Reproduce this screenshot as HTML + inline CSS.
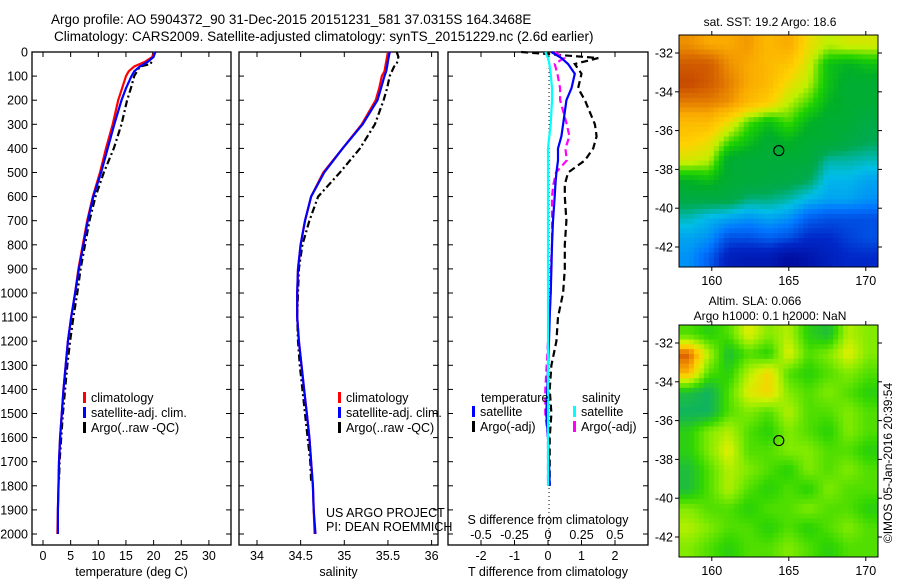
<!DOCTYPE html>
<html><head><meta charset="utf-8">
<style>
html,body{margin:0;padding:0;background:#fff;}
svg{display:block;font-family:"Liberation Sans",sans-serif;}
</style></head>
<body>
<svg id="c" width="900" height="580" viewBox="0 0 900 580" xmlns="http://www.w3.org/2000/svg">
<text x="51" y="24" font-size="13.5">Argo profile: AO 5904372_90 31-Dec-2015 20151231_581 37.0315S 164.3468E</text>
<text x="54" y="41" font-size="13.5">Climatology: CARS2009. Satellite-adjusted climatology: synTS_20151229.nc (2.6d earlier)</text>
<g id="maps"></g>
<g id="panels"></g>
</svg>
<script>
// ---------- data ----------
const depthTicks=[0,100,200,300,400,500,600,700,800,900,1000,1100,1200,1300,1400,1500,1600,1700,1800,1900,2000];
const tempTicks=[0,5,10,15,20,25,30];
const salTicks=[34,34.5,35,35.5,36];
const tdiffTicks=[-2,-1,0,1,2];
const sdiffTicks=[-0.5,-0.25,0,0.25,0.5];
const sdiffLabels=["-0.5","-0.25","0","0.25","0.5"];

const tClimDepth=[0,20,40,60,80,100,150,200,300,400,500,600,700,800,900,1000,1100,1200,1300,1400,1500,1600,1700,1800,1900,2000];
const tClim=[20.2,19.8,18.5,16.5,15.5,15.0,14.3,13.6,12.6,11.4,10.3,9.0,8.0,7.2,6.4,5.8,5.1,4.5,4.1,3.7,3.4,3.1,2.9,2.8,2.7,2.6];
const tSat=[20.3,20.0,19.0,17.5,16.5,16.0,15.0,14.2,12.9,11.7,10.5,9.1,8.1,7.3,6.5,5.8,5.1,4.5,4.1,3.7,3.4,3.1,2.9,2.8,2.7,2.7];
const argoDepth=[0,20,50,60,100,150,200,300,400,500,600,700,800,900,1000,1100,1200,1300,1400,1500,1600,1700,1780];
const tArgo=[20.0,19.8,19.5,17.5,16.5,15.9,15.2,14.2,12.8,11.0,9.5,8.4,7.6,6.8,6.2,5.5,4.9,4.4,4.0,3.6,3.3,3.0,2.9];

const sClim=[35.5,35.49,35.48,35.47,35.46,35.43,35.40,35.36,35.2,34.98,34.76,34.62,34.55,34.5,34.47,34.46,34.46,34.48,34.51,34.54,34.57,34.6,34.62,34.64,34.65,34.66];
const sSat=[35.52,35.51,35.5,35.49,35.48,35.46,35.42,35.38,35.21,34.98,34.77,34.62,34.55,34.5,34.47,34.46,34.46,34.48,34.51,34.54,34.57,34.6,34.62,34.64,34.65,34.67];
const sArgo=[35.6,35.62,35.6,35.57,35.52,35.49,35.45,35.35,35.18,34.95,34.7,34.6,34.52,34.48,34.47,34.46,34.47,34.49,34.52,34.55,34.58,34.61,34.62];

const diffDepth=[0,25,50,90,150,200,300,350,400,450,500,550,600,700,800,900,1000,1100,1200,1300,1400,1500,1600,1700,1800];
const tdSat=[0.1,0.4,0.6,0.8,0.7,0.55,0.45,0.4,0.3,0.3,0.25,0.22,0.2,0.15,0.12,0.1,0.08,0.05,0.03,0.0,-0.02,-0.05,0.0,0.03,0.05];
const tdArgo=[-0.8,1.5,0.8,1.0,0.9,1.1,1.4,1.45,1.35,1.1,0.6,0.5,0.5,0.55,0.5,0.5,0.45,0.3,0.25,0.1,0.05,0.1,0.05,0.05,0.05];
const sdSat=[-0.02,0.0,0.01,0.02,0.03,0.03,0.02,0.01,0.0,0.0,0.0,0.0,0.0,0.0,0.0,0.0,0.0,0.0,0.0,0.0,0.0,0.0,0.0,0.0,0.0];
const sdArgo=[0.05,0.12,0.05,0.07,0.09,0.09,0.14,0.16,0.13,0.14,0.06,0.04,0.03,0.03,0.03,0.02,0.02,0.01,0.0,-0.01,-0.02,-0.02,0.0,0.0,0.0];

const lonTicks=[160,165,170];
const latTicks=[-32,-34,-36,-38,-40,-42];
const sstGrid=[
[.78,.75,.75,.77,.72,.75,.65,.6,.62,.62],
[.85,.85,.78,.75,.72,.7,.62,.5,.48,.5],
[.88,.85,.8,.75,.72,.65,.6,.5,.45,.45],
[.8,.8,.78,.72,.68,.6,.55,.48,.45,.45],
[.72,.72,.65,.55,.5,.55,.48,.45,.45,.42],
[.68,.65,.55,.5,.45,.48,.45,.45,.42,.4],
[.62,.6,.45,.44,.44,.44,.44,.36,.36,.35],
[.48,.5,.45,.44,.43,.42,.4,.32,.32,.3],
[.42,.42,.42,.38,.38,.36,.32,.3,.3,.28],
[.35,.32,.3,.28,.3,.28,.22,.2,.2,.2],
[.3,.28,.2,.2,.22,.2,.15,.15,.18,.2],
[.28,.22,.12,.1,.1,.05,.08,.12,.15,.15]];
const slaGrid=[
[.5,.45,.5,.65,.55,.6,.45,.4,.6,.55],
[.85,.6,.4,.5,.45,.65,.5,.55,.65,.55],
[.75,.5,.45,.6,.7,.5,.45,.5,.55,.5],
[.4,.35,.5,.65,.7,.55,.5,.55,.5,.45],
[.35,.35,.5,.55,.5,.6,.5,.5,.55,.5],
[.45,.55,.6,.5,.45,.55,.5,.45,.55,.5],
[.45,.55,.65,.5,.5,.55,.55,.5,.5,.45],
[.4,.5,.6,.55,.5,.45,.55,.5,.55,.5],
[.4,.5,.6,.5,.45,.5,.45,.55,.5,.5],
[.55,.5,.5,.45,.5,.5,.55,.5,.5,.45],
[.6,.55,.5,.5,.45,.5,.45,.5,.55,.5],
[.55,.5,.45,.5,.5,.55,.5,.45,.5,.5]];
const argoLon=164.35, argoLat=-37.03;

// ---------- helpers ----------
const NS="http://www.w3.org/2000/svg";
function mk(parent,tag,attrs,text){const e=document.createElementNS(NS,tag);for(const k in attrs)e.setAttribute(k,attrs[k]);if(text!==undefined)e.textContent=text;parent.appendChild(e);return e;}
const Y=d=>52+d*0.241;
const P=document.getElementById('panels');

function panel(name,x0,x1,xfn,ticks,labels,xlabel,showY){
  const g=mk(P,'g',{});
  
  
  const fr=mk(g,'rect',{x:x0,y:52,width:x1-x0,height:493,fill:'none',stroke:'#000','stroke-width':1.3});
  
  
  depthTicks.forEach(d=>{
    mk(g,'line',{x1:x0,x2:x0+5,y1:Y(d),y2:Y(d),stroke:'#000'});
    mk(g,'line',{x1:x1-5,x2:x1,y1:Y(d),y2:Y(d),stroke:'#000'});
    if(showY){const t=mk(g,'text',{x:28,y:Y(d)+4.5,'font-size':12.5,'text-anchor':'end'},String(d));
      
      }
  });
  ticks.forEach((v,i)=>{const x=xfn(v);
    mk(g,'line',{x1:x,x2:x,y1:52,y2:57,stroke:'#000'});
    mk(g,'line',{x1:x,x2:x,y1:540,y2:545,stroke:'#000'});
    const t=mk(g,'text',{x:x,y:560,'font-size':12.5,'text-anchor':'middle'},labels[i]);
    
    
  });
  const xl=mk(g,'text',{x:(x0+x1)/2,y:576,'font-size':12.5,'text-anchor':'middle'},xlabel);
  
  
  return g;
}
function line(g,name,xs,ds,xfn,color,dash,w){
  const pts=xs.map((v,i)=>xfn(v).toFixed(1)+','+Y(ds[i]).toFixed(1)).join(' ');
  const l=mk(g,'polyline',{points:pts,fill:'none',stroke:color,'stroke-width':w||2.2});
  if(dash)l.setAttribute('stroke-dasharray',dash);
  
  
}
function legend(g,x,y,items){
  items.forEach((it,i)=>{
    const yy=y+i*15;
    mk(g,'rect',{x:x,y:yy-10,width:3,height:11,fill:it[1]});
    const t=mk(g,'text',{x:x+8,y:yy,'font-size':12.5},it[0]);
    
    
  });
}

// Panel 1 temperature
const xT=v=>43+v*5.53;
const g1=panel('temperature-panel',32,231,xT,tempTicks,tempTicks.map(String),'temperature (deg C)',true);
line(g1,'temp-argo',tArgo,argoDepth,xT,'#000','7,3,2,3');
line(g1,'temp-climatology',tClim,tClimDepth,xT,'#ff0000');
line(g1,'temp-satellite',tSat,tClimDepth,xT,'#0000ff');
legend(g1,83,402,[['climatology','#ff0000'],['satellite-adj. clim.','#0000ff'],['Argo(..raw -QC)','#000']]);

// Panel 2 salinity
const xS=v=>257+(v-34)*87.3;
const g2=panel('salinity-panel',239,438,xS,salTicks,salTicks.map(String),'salinity',false);
line(g2,'sal-argo',sArgo,argoDepth,xS,'#000','7,3,2,3');
line(g2,'sal-climatology',sClim,tClimDepth,xS,'#ff0000');
line(g2,'sal-satellite',sSat,tClimDepth,xS,'#0000ff');
legend(g2,338,402,[['climatology','#ff0000'],['satellite-adj. clim.','#0000ff'],['Argo(..raw -QC)','#000']]);
mk(g2,'text',{x:326,y:517,'font-size':12.5},'US ARGO PROJECT');
mk(g2,'text',{x:326,y:531,'font-size':12.5},'PI: DEAN ROEMMICH');

// Panel 3 differences
const xTD=v=>548+v*33.5;
const xSD=v=>548+v*134;
const g3=panel('difference-panel',448,648,xTD,tdiffTicks,tdiffTicks.map(String),'T difference from climatology',false);
mk(g3,'line',{x1:549,x2:549,y1:52,y2:545,stroke:'#000','stroke-dasharray':'1,3'});
line(g3,'tdiff-argo',tdArgo,diffDepth,xTD,'#000','7,4');
line(g3,'sdiff-argo',sdArgo,diffDepth,xSD,'#ff00ff','7,4');
line(g3,'tdiff-satellite',tdSat,diffDepth,xTD,'#0000ff');
line(g3,'sdiff-satellite',sdSat,diffDepth,xSD,'#00ffff');
sdiffTicks.forEach((v,i)=>{const t=mk(g3,'text',{x:xSD(v),y:539,'font-size':12.5,'text-anchor':'middle'},sdiffLabels[i]);
  
  });
mk(g3,'text',{x:548,y:524,'font-size':12.5,'text-anchor':'middle'},'S difference from climatology');
mk(g3,'text',{x:481,y:402,'font-size':12.5},'temperature');
mk(g3,'text',{x:582,y:402,'font-size':12.5},'salinity');
legend(g3,472,416,[['satellite','#0000ff'],['Argo(-adj)','#000']]);
legend(g3,573,416,[['satellite','#00ffff'],['Argo(-adj)','#ff00ff']]);

// ---------- maps ----------
const M=document.getElementById('maps');
function interp(stops,v){
  for(let i=1;i<stops.length;i++){if(v<=stops[i][0]){const a=stops[i-1],b=stops[i];const t=(v-a[0])/(b[0]-a[0]);
    const c=a[1].map((x,k)=>Math.round(x+(b[1][k]-x)*t));return 'rgb('+c.join(',')+')';}}
  return 'rgb('+stops[stops.length-1][1].join(',')+')';
}
function sample(grid,fr,fc){
  const R=grid.length,C=grid[0].length;
  let r=Math.max(0,Math.min(R-1,fr-0.5)),c=Math.max(0,Math.min(C-1,fc-0.5));
  const r0=Math.floor(r),c0=Math.floor(c),r1=Math.min(R-1,r0+1),c1=Math.min(C-1,c0+1);
  const tr=r-r0,tc=c-c0;
  return grid[r0][c0]*(1-tr)*(1-tc)+grid[r0][c1]*(1-tr)*tc+grid[r1][c0]*tr*(1-tc)+grid[r1][c1]*tr*tc;
}
const sstStops=[[0,[0,0,140]],[0.15,[0,40,200]],[0.25,[0,120,255]],[0.33,[0,190,230]],[0.4,[0,170,80]],[0.47,[0,175,40]],[0.53,[30,210,0]],[0.6,[190,240,0]],[0.67,[255,210,0]],[0.75,[250,170,0]],[0.82,[220,110,0]],[0.9,[190,60,0]],[1,[160,0,0]]];
const slaStops=[[0,[0,100,200]],[0.3,[0,170,130]],[0.4,[30,190,60]],[0.47,[50,215,0]],[0.55,[130,235,0]],[0.63,[210,240,0]],[0.72,[255,205,0]],[0.8,[240,140,0]],[0.9,[190,40,0]]];
function map(name,y0,grid,stops,titles){
  const g=mk(M,'g',{});
  
  
  const x0=679,x1=878,y1=y0+232;
  const lonX=v=>681+(v-158)*15.4;
  const latY=v=>y0+18+(-32-v)*19.4;
  const S=4,R=grid.length,C=grid[0].length;
  const cw=(x1-x0)/(C*S),ch=(y1-y0)/(R*S);
  for(let r=0;r<R*S;r++)for(let c=0;c<C*S;c++){
    const v=sample(grid,(r+0.5)/S,(c+0.5)/S);
    const cell=mk(g,'rect',{x:(x0+c*cw).toFixed(2),y:(y0+r*ch).toFixed(2),width:(cw+0.4).toFixed(2),height:(ch+0.4).toFixed(2),fill:interp(stops,v)});
    
    
  }
  mk(g,'rect',{x:x0,y:y0,width:x1-x0,height:y1-y0,fill:'none',stroke:'#000'});
  lonTicks.forEach(v=>{const x=lonX(v);
    mk(g,'line',{x1:x,x2:x,y1:y0-4,y2:y0,stroke:'#000'});
    mk(g,'line',{x1:x,x2:x,y1:y1,y2:y1+4,stroke:'#000'});
    const t=mk(g,'text',{x:x,y:y1+18,'font-size':12.5,'text-anchor':'middle'},String(v));
    
    });
  latTicks.forEach(v=>{const y=latY(v);
    mk(g,'line',{x1:x0-4,x2:x0,y1:y,y2:y,stroke:'#000'});
    mk(g,'line',{x1:x1,x2:x1+4,y1:y,y2:y,stroke:'#000'});
    const t=mk(g,'text',{x:x0-6,y:y+4.5,'font-size':12.5,'text-anchor':'end'},String(v));
    
    });
  const m=mk(g,'circle',{cx:lonX(argoLon),cy:latY(argoLat),r:5,fill:'none',stroke:'#000','stroke-width':1.2});
  
  
  titles.forEach(t=>{const e=mk(g,'text',{x:t[0],y:t[1],'font-size':12,'text-anchor':'middle'},t[2]);
    
    });
}
map('sst-map',35,sstGrid,sstStops,[[770,26,'sat. SST: 19.2 Argo: 18.6']]);
map('sla-map',325,slaGrid,slaStops,[[755,305,'Altim. SLA: 0.066'],[770,320,'Argo h1000: 0.1 h2000: NaN']]);
const st=mk(M,'text',{x:0,y:0,'font-size':12,'text-anchor':'middle',transform:'translate(892,463) rotate(-90)'},'©IMOS 05-Jan-2016 20:39:54');


</script>
</body></html>
